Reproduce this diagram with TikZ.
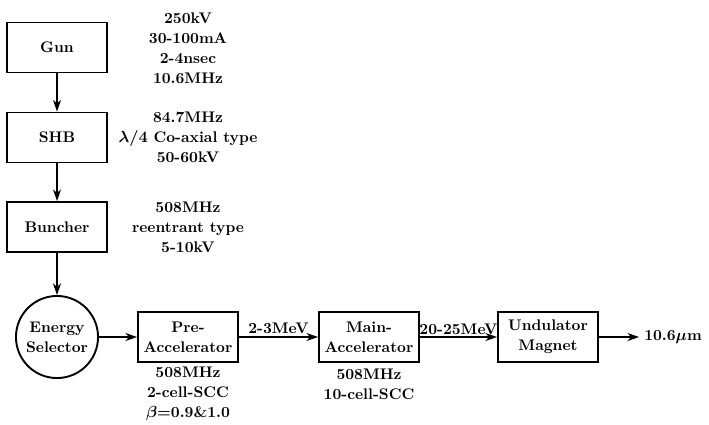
\documentclass[tikz,border=0pt]{standalone}
\usepackage{tikz}
\usetikzlibrary{positioning,arrows.meta}

\begin{document}
\begin{tikzpicture}[
  x=0.024cm, y=-0.024cm,
  every node/.style={font=\bfseries\boldmath\fontsize{10.5}{13.6}\selectfont},
  box/.style={draw, line width=1.3pt, minimum width=2.4cm, minimum height=1.2cm, align=center},
  selbox/.style={draw, circle, line width=1.3pt, minimum size=1.97cm, inner sep=0pt, align=center},
  note/.style={align=center},
  arr/.style={-{Stealth[length=8pt,width=5.5pt]}, line width=1.1pt},
]
\useasboundingbox (0,0) rectangle (709,424);

% injector column
\node[box] (gun) at (57,47.5) {Gun};
\node[box] (shb) at (57,137.5) {SHB};
\node[box] (bun) at (57,227) {Buncher};
\node[selbox] (sel) at (57,337) {Energy\\Selector};

% parameters beside the column
\node[note] (gunnote) at (188,48) {250kV\\30-100mA\\2-4nsec\\10.6MHz};
\node[note] (shbnote) at (188,137) {84.7MHz\\$\lambda/4$ Co-axial type\\50-60kV};
\node[note] (bunnote) at (188,227) {508MHz\\reentrant type\\5-10kV};

% accelerator line
\node[box] (pre)  at (188,337) {Pre-\\Accelerator};
\node[box] (main) at (369,337) {Main-\\Accelerator};
\node[box] (und)  at (548,337) {Undulator\\Magnet};
\node (out) at (673,337) {10.6$\mu$m};

\node[note] (prenote)  at (188,394) {508MHz\\2-cell-SCC\\$\beta$=0.9\&1.0};
\node[note] (mainnote) at (369,384) {508MHz\\10-cell-SCC};

\draw[arr] (gun) -- (shb);
\draw[arr] (shb) -- (bun);
\draw[arr] (bun) -- (sel);
\draw[arr] (sel) -- (pre);
\draw[arr] (pre) -- node[above, inner sep=2pt] {2-3MeV} (main);
\draw[arr] (main) -- node[above, inner sep=1pt] {20-25MeV} (und);
\draw[arr] (und) -- (out);
\end{tikzpicture}
\end{document}
